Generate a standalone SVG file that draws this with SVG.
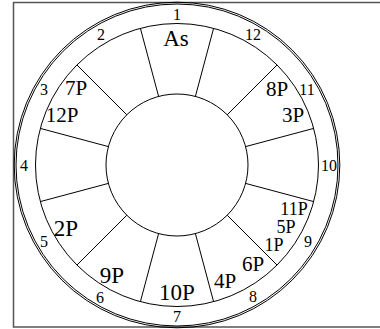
<svg xmlns="http://www.w3.org/2000/svg" width="380" height="329" viewBox="0 0 380 329">
<style>
.frame{fill:none;stroke:#555;stroke-width:1.5}
.c{fill:none;stroke:#000;stroke-width:1}
.n{font-family:"Liberation Serif",serif;font-size:16px;text-anchor:middle;dominant-baseline:central;fill:#000}
.p{font-family:"Liberation Serif",serif;text-anchor:middle;fill:#000}
</style>
<rect class="frame" x="13.5" y="2.5" width="380" height="324.5"/>
<g id="wheel">
<circle class="c" cx="177" cy="165" r="161" stroke-width="1.2"/>
<circle class="c" cx="177" cy="165" r="162.8" stroke-width="1.2"/>
<circle class="c" cx="177" cy="165" r="141.5"/>
<circle class="c" cx="177" cy="165" r="71"/>
</g>
<g id="connectors" stroke="#000" stroke-width="1">
<line x1="158.6" y1="96.4" x2="140.4" y2="28.3"/>
<line x1="126.8" y1="114.8" x2="76.9" y2="64.9"/>
<line x1="108.4" y1="146.6" x2="40.3" y2="128.4"/>
<line x1="108.4" y1="183.4" x2="40.3" y2="201.6"/>
<line x1="126.8" y1="215.2" x2="76.9" y2="265.1"/>
<line x1="158.6" y1="233.6" x2="140.4" y2="301.7"/>
<line x1="195.4" y1="233.6" x2="213.6" y2="301.7"/>
<line x1="227.2" y1="215.2" x2="277.1" y2="265.1"/>
<line x1="245.6" y1="183.4" x2="313.7" y2="201.6"/>
<line x1="245.6" y1="146.6" x2="313.7" y2="128.4"/>
<line x1="227.2" y1="114.8" x2="277.1" y2="64.9"/>
<line x1="195.4" y1="96.4" x2="213.6" y2="28.3"/>
</g>
<g id="houses">
<text class="n" x="177" y="14">1</text>
<text class="n" x="101" y="34">2</text>
<text class="n" x="44" y="89">3</text>
<text class="n" x="24" y="165">4</text>
<text class="n" x="44" y="241">5</text>
<text class="n" x="100" y="297">6</text>
<text class="n" x="177" y="316">7</text>
<text class="n" x="253" y="296">8</text>
<text class="n" x="308" y="241">9</text>
<text class="n" x="329" y="165">10</text>
<text class="n" x="307" y="89">11</text>
<text class="n" x="253" y="34">12</text>
</g>
<g id="planets">
<text class="p" x="176" y="46" font-size="23">As</text>
<text class="p" x="76" y="95" font-size="21">7P</text>
<text class="p" x="62" y="122" font-size="21">12P</text>
<text class="p" x="277" y="96" font-size="21">8P</text>
<text class="p" x="293" y="122" font-size="21">3P</text>
<text class="p" x="294" y="215" font-size="18">11P</text>
<text class="p" x="286" y="233" font-size="18">5P</text>
<text class="p" x="274" y="251" font-size="18">1P</text>
<text class="p" x="253" y="271" font-size="21">6P</text>
<text class="p" x="225" y="288" font-size="21">4P</text>
<text class="p" x="177" y="300" font-size="23">10P</text>
<text class="p" x="112" y="283" font-size="23">9P</text>
<text class="p" x="66" y="236" font-size="23">2P</text>
</g>
</svg>
